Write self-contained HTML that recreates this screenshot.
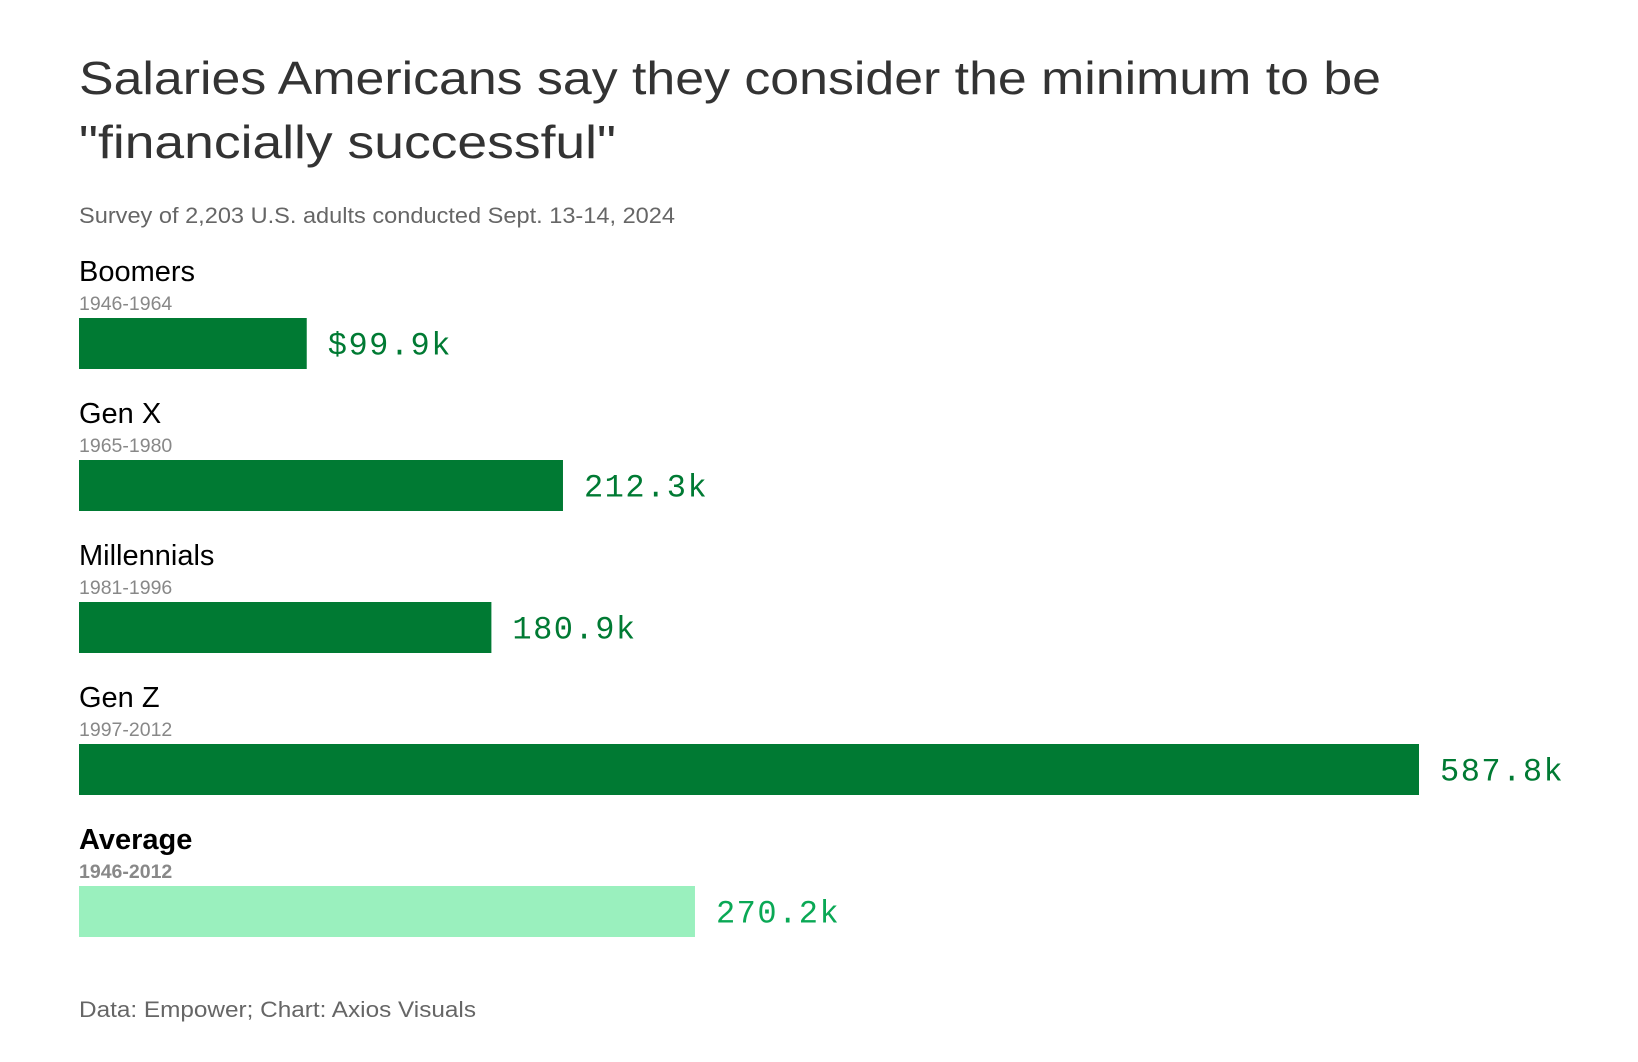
<!DOCTYPE html>
<html><head><meta charset="utf-8"><style>
html,body{margin:0;padding:0;background:#fff;}
svg{display:block;}
text{font-family:"Liberation Sans",sans-serif;}
.mono{font-family:"Liberation Mono",monospace;}
</style></head><body>
<svg id="chart" width="1638" height="1062" viewBox="0 0 1638 1062">
<text x="79" y="94" font-size="46" fill="#333" textLength="1302" lengthAdjust="spacingAndGlyphs">Salaries Americans say they consider the minimum to be</text>
<text x="79" y="158" font-size="46" fill="#333" textLength="537" lengthAdjust="spacingAndGlyphs">"financially successful"</text>
<text x="79" y="223" font-size="22" fill="#666" textLength="596" lengthAdjust="spacingAndGlyphs">Survey of 2,203 U.S. adults conducted Sept. 13-14, 2024</text>
<g id="bars"></g>
<text x="79" y="1017" font-size="22" fill="#666" textLength="397" lengthAdjust="spacingAndGlyphs">Data: Empower; Chart: Axios Visuals</text>
</svg>
<script>
const categories = ["Boomers", "Gen X", "Millennials", "Gen Z", "Average"];
const yearRanges = ["1946-1964", "1965-1980", "1981-1996", "1997-2012", "1946-2012"];
const values = [99.9, 212.3, 180.9, 587.8, 270.2];
const valueLabels = ["$99.9k", "212.3k", "180.9k", "587.8k", "270.2k"];

const NS = "http://www.w3.org/2000/svg";
const g = document.getElementById("bars");
const x0 = 79, pxPerK = 1340 / 587.8;
function xScale(v){ return x0 + v * pxPerK; }
function yTop(i){ return 318 + i * 142; }
const barH = 51;
function mk(tag, attrs, txt){
  const el = document.createElementNS(NS, tag);
  for (const k in attrs) el.setAttribute(k, attrs[k]);
  if (txt !== undefined) el.textContent = txt;
  g.appendChild(el);
  return el;
}
categories.forEach((c, i) => {
  const avg = i === categories.length - 1;
  const t = yTop(i);
  const lab = mk("text", {x: x0, y: t - 37, "font-size": 29, fill: "#000", "font-weight": avg ? "bold" : "normal"}, c);
  
  
  const yr = mk("text", {x: x0, y: t - 8, "font-size": 19.5, fill: "#888", "font-weight": avg ? "bold" : "normal"}, yearRanges[i]);
  
  
  const xe = xScale(values[i]);
  const r = mk("rect", {x: x0, y: t, width: xe - x0, height: barH, fill: avg ? "#9af0be" : "#007a33"});
  
  
  const v = mk("text", {x: xe + 21, y: t + barH / 2 + 11, "font-size": 32, "letter-spacing": 1.5, fill: avg ? "#0aa855" : "#007a33", class: "mono"}, valueLabels[i]);
  
  
});
</script>
</body></html>
